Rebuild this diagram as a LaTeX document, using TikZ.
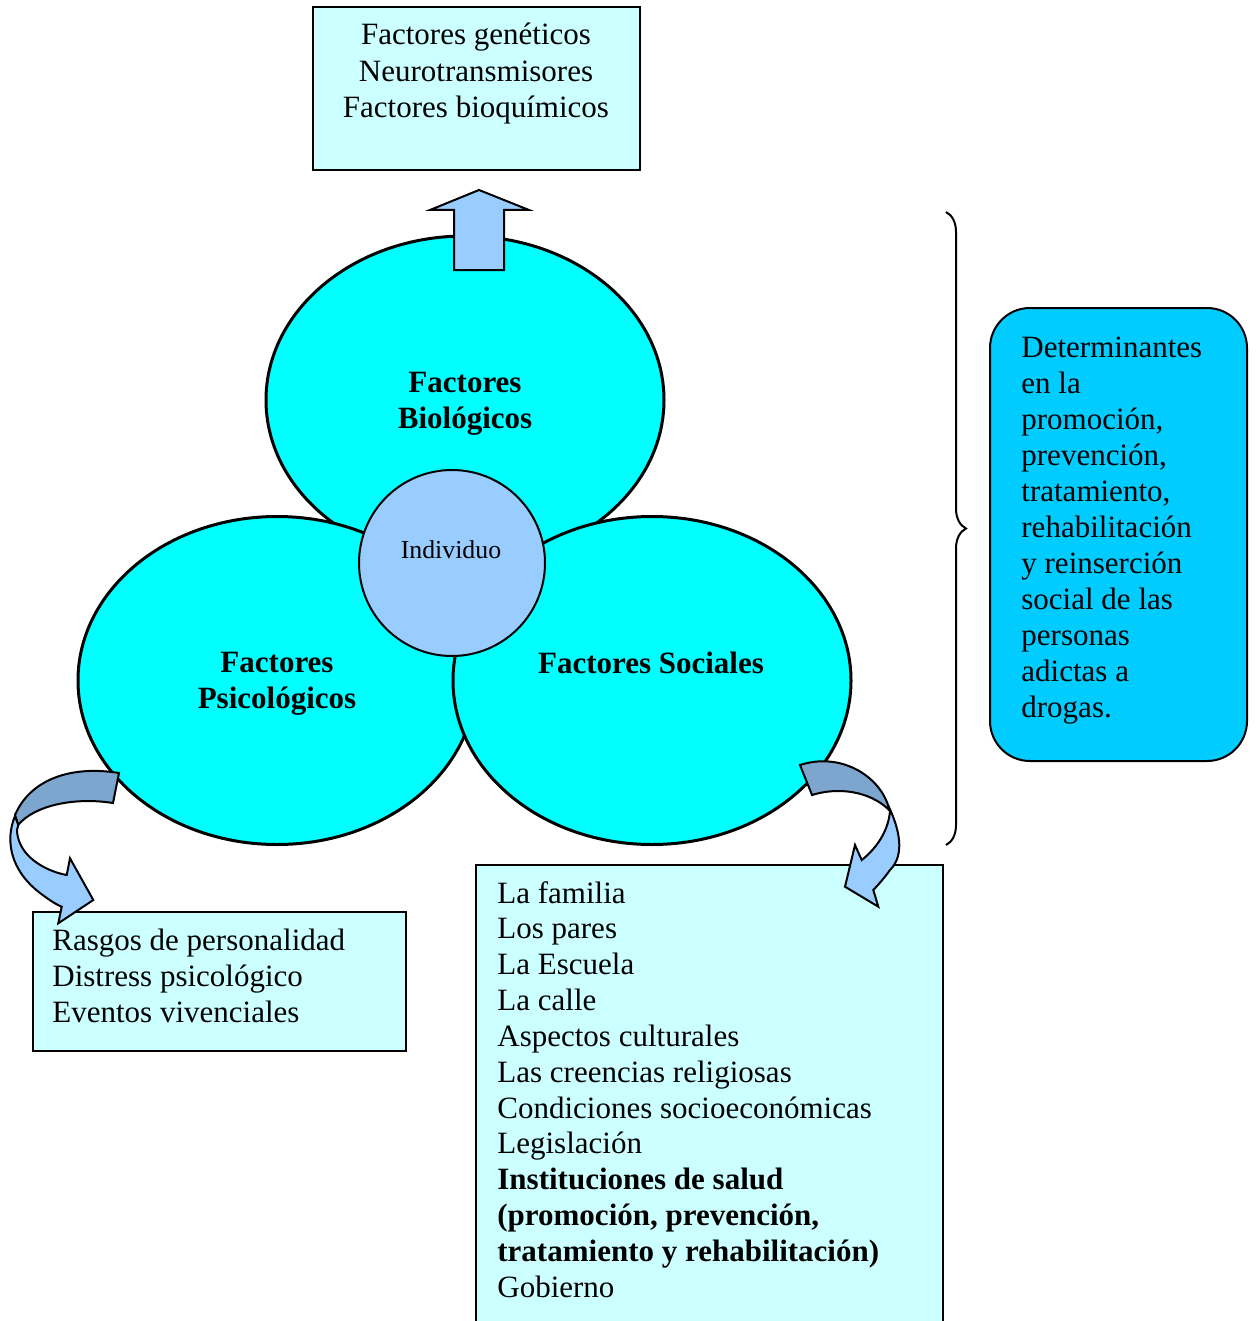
\documentclass[tikz,border=0pt]{standalone}
\usepackage{fontspec}
\setmainfont{Liberation Serif}
\usepackage{xcolor}
\usetikzlibrary{calc, shapes.geometric, positioning, decorations.pathreplacing}

\definecolor{paleCyan}{HTML}{CCFFFF}
\definecolor{brightCyan}{HTML}{00FFFF}
\definecolor{skyBlue}{HTML}{99CCFF}
\definecolor{ribbonBack}{HTML}{7CA6CE}
\definecolor{noteCyan}{HTML}{00CCFF}

\tikzset{
    factor/.style={ellipse, draw=black, line width=1.5pt, fill=brightCyan,
        minimum width=199pt, minimum height=164pt, inner sep=0pt},
    core/.style={circle, draw=black, line width=1pt, fill=skyBlue,
        minimum size=93pt, inner sep=0pt},
    listbox/.style={rectangle, draw=black, line width=0.8pt, fill=paleCyan, inner sep=0pt},
    notebox/.style={rectangle, rounded corners=20pt, draw=black, line width=1pt,
        fill=noteCyan, inner sep=0pt},
    linetext/.style={inner sep=0pt, font=\fontsize{15.5}{18}\selectfont},
    factortext/.style={inner sep=0pt, anchor=base, font=\fontsize{15.5}{18}\selectfont\bfseries},
    blockarrow/.style={draw=black, line width=1pt, fill=skyBlue},
    ribbon/.style={draw=black, line width=1pt, fill=ribbonBack},
}

\begin{document}
\begin{tikzpicture}[x=0.5pt, y=-0.5pt]
    \useasboundingbox (0,0) rectangle (1256,1321);
    \clip (0,0) rectangle (1256,1321);

    % boxes
    \node[listbox, minimum width=163.5pt, minimum height=81.5pt] (bio-box) at (476.5,88.5) {};
    \node[listbox, minimum width=186.5pt, minimum height=69.5pt] (psi-box) at (219.5,981.5) {};
    \node[listbox, minimum width=233.5pt, minimum height=235pt] (soc-box) at (709.5,1100) {};
    \node[notebox, minimum width=128.5pt, minimum height=226.5pt] (note) at (1118.5,534.5) {};

    % the three factors
    \node[factor] (bio) at (465,400) {};
    \node[factor] (psi) at (277,680.5) {};
    \node[factor] (soc) at (652,680.5) {};
    \node[core] (ind) at (452,563) {};

    \node[factortext] (bio-l1) at (465,392) {Factores};
    \node[factortext] (bio-l2) at (465,428) {Biológicos};
    \node[factortext] (psi-l1) at (277,672) {Factores};
    \node[factortext] (psi-l2) at (277,708) {Psicológicos};
    \node[factortext] (soc-l1) at (651,673) {Factores Sociales};
    \node[anchor=base, inner sep=0pt, font=\fontsize{12.9}{15}\selectfont] (ind-l) at (451,558) {Individuo};

    % lists
    \foreach \txt [count=\i from 0] in {Factores genéticos, Neurotransmisores, Factores bioquímicos}
        \node[linetext, anchor=base] (bio-item\i) at (476,45+36.5*\i) {\txt};
    \foreach \txt [count=\i from 0] in {Rasgos de personalidad, Distress psicológico, Eventos vivenciales}
        \node[linetext, anchor=base west] (psi-item\i) at (52,950+36*\i) {\txt};
    \foreach \txt [count=\i from 0] in {La familia, Los pares, La Escuela, La calle,
        Aspectos culturales, Las creencias religiosas, Condiciones socioeconómicas,
        Legislación, \textbf{Instituciones de salud}, {\textbf{(promoción, prevención,}},
        \textbf{tratamiento y rehabilitación)}, Gobierno}
        \node[linetext, anchor=base west] (soc-item\i) at (497,903+35.85*\i) {\txt};
    \foreach \txt [count=\i from 0] in {Determinantes, en la, {promoción,}, {prevención,},
        {tratamiento,}, rehabilitación, y reinserción, social de las, personas, adictas a, drogas.}
        \node[linetext, anchor=base west] (note-item\i) at (1021,357+36*\i) {\txt};

    % up arrow
    \draw[blockarrow] (454,270) -- (454,210) -- (430,210) -- (479,190)
        -- (529,210) -- (504,210) -- (504,270) -- cycle;

    % left ribbon arrow
    \draw[ribbon] (119,773) .. controls (70,765) and (30,780) .. (15,815)
        -- (18,825) .. controls (35,805) and (75,797) .. (113,803) -- cycle;
    \draw[blockarrow] (15,816) .. controls (5,840) and (10,870) .. (40,893)
        .. controls (48,899) and (55,904) .. (61.7,906.7) -- (58.3,923.3) -- (93.3,900)
        -- (70,858.3) -- (66.7,875) .. controls (50,872) and (30,862) .. (21.7,846.7)
        .. controls (17,838) and (16,830) .. (18.3,825) -- cycle;

    % right ribbon arrow
    \draw[ribbon] (800,765) .. controls (840,752) and (878,775) .. (888,805)
        -- (890,811) .. controls (875,795) and (845,785) .. (812,795) -- cycle;
    \draw[blockarrow] (888,805) .. controls (900,830) and (905,855) .. (890,870)
        .. controls (885,877) and (879,884) .. (873.3,890) -- (878.3,906.7) -- (845,886.7)
        -- (855,845) -- (861.7,860) .. controls (872,852) and (888,835) .. (890,811) -- cycle;

    % brace
    \coordinate (brace-top) at (946,212);
    \coordinate (brace-bot) at (946,845);
    \draw[line width=1pt, decorate, decoration={brace, amplitude=10pt}] (brace-top) -- (brace-bot);
\end{tikzpicture}
\end{document}
